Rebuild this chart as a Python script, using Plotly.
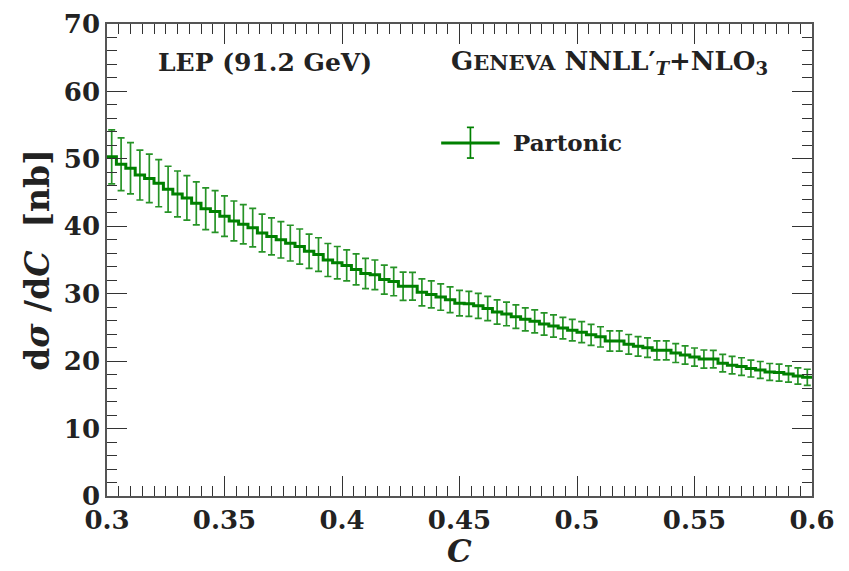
import numpy as np
import plotly.graph_objects as go

# Binning of the C distribution (75 bins of width 0.004 between 0.3 and 0.6)
c_lo = 0.3
c_hi = 0.6
n_bins = 75

# d sigma / dC per bin [nb]
xsec = [
    50.3, 49.2, 48.6, 47.6, 47.1, 46.4, 45.5, 44.8, 44.2, 43.4, 42.6, 42.2, 41.5,
    40.8, 40.3, 39.8, 39.0, 38.5, 38.0, 37.5, 37.0, 36.3, 35.8, 35.0, 34.6, 34.2,
    33.6, 33.0, 32.8, 32.1, 31.8, 31.1, 31.1, 30.2, 29.9, 29.5, 29.1, 28.6, 28.5,
    28.2, 27.8, 27.3, 27.0, 26.6, 26.2, 25.9, 25.5, 25.2, 24.9, 24.6, 24.3, 23.9,
    23.6, 23.0, 23.0, 22.5, 22.2, 22.0, 21.6, 21.6, 21.2, 20.9, 20.6, 20.3,
    20.3, 19.7, 19.4, 19.2, 18.9, 18.7, 18.4, 18.3, 18.1, 17.8, 17.6,
]

# symmetric uncertainty per bin [nb]
xsec_err = [
    4.0, 3.9, 3.8, 3.7, 3.6, 3.5, 3.4, 3.4, 3.3, 3.2, 3.1, 3.1, 3.0,
    2.95, 2.9, 2.85, 2.8, 2.75, 2.7, 2.65, 2.6, 2.55, 2.5, 2.45, 2.4, 2.3,
    2.3, 2.25, 2.2, 2.15, 2.1, 2.1, 2.05, 2.0, 2.0, 1.95, 1.9, 1.9, 1.85,
    1.85, 1.8, 1.8, 1.75, 1.75, 1.7, 1.7, 1.65, 1.65, 1.6, 1.6, 1.55, 1.55,
    1.5, 1.5, 1.5, 1.45, 1.45, 1.45, 1.4, 1.4, 1.4, 1.35, 1.35, 1.35,
    1.3, 1.3, 1.3, 1.3, 1.25, 1.25, 1.25, 1.25, 1.2, 1.2, 1.2,
]

x_tickvals = [0.3, 0.35, 0.4, 0.45, 0.5, 0.55, 0.6]
x_ticktext = ["0.3", "0.35", "0.4", "0.45", "0.5", "0.55", "0.6"]
y_tickvals = [0, 10, 20, 30, 40, 50, 60, 70]
y_ticktext = ["0", "10", "20", "30", "40", "50", "60", "70"]

edges = np.linspace(c_lo, c_hi, n_bins + 1)
centers = 0.5 * (edges[:-1] + edges[1:])

GREEN = "#008000"
FONT = "DejaVu Serif"
INK = "#222222"

fig = go.Figure()

# histogram outline
fig.add_trace(go.Scatter(
    x=edges, y=list(xsec) + [xsec[-1]],
    mode="lines", line=dict(color=GREEN, width=3, shape="hv"),
    hoverinfo="skip", showlegend=False,
))

# error bars at bin centres
fig.add_trace(go.Scatter(
    x=centers, y=xsec, mode="markers",
    marker=dict(size=1, color="rgba(0,0,0,0)"),
    error_y=dict(type="data", array=xsec_err, visible=True,
                 color="rgba(0,128,0,0.85)", thickness=1.7, width=3.5),
    showlegend=False,
))

axis_common = dict(
    showgrid=False, zeroline=False, automargin=False,
    showline=True, linecolor="#555555", linewidth=1.5,
    mirror="allticks", ticks="inside", ticklen=20, tickwidth=1.2, tickcolor="#333333",
    tickfont=dict(family=FONT, size=26, color=INK, weight="bold"),
)

fig.update_xaxes(
    range=[c_lo, c_hi], tickmode="array", tickvals=x_tickvals, ticktext=x_ticktext,
    minor=dict(dtick=0.005, ticklen=10, ticks="inside", tickcolor="#333333", tickwidth=1),
    **axis_common,
)
fig.update_yaxes(
    range=[0, 70], tickmode="array", tickvals=y_tickvals, ticktext=y_ticktext,
    minor=dict(dtick=2, ticklen=10, ticks="inside", tickcolor="#333333", tickwidth=1),
    title=dict(text="<b>d<i>σ</i> /d<i>C</i>  [nb]</b>",
               font=dict(family=FONT, size=33, color=INK), standoff=4),
    **axis_common,
)

# x-axis title placed below the tick labels
fig.add_annotation(
    x=0.5, y=-0.116, xref="paper", yref="paper", showarrow=False,
    xanchor="center", yanchor="middle", height=32, valign="middle",
    text="<b><i>C</i></b>", font=dict(family=FONT, size=31, color=INK),
)

# header labels
fig.add_annotation(
    x=0.224, y=0.919, xref="paper", yref="paper", showarrow=False,
    xanchor="center", yanchor="middle",
    text="<b>LEP (91.2 GeV)</b>", font=dict(family=FONT, size=25, color=INK),
)
fig.add_annotation(
    x=0.713, y=0.919, xref="paper", yref="paper", showarrow=False,
    xanchor="center", yanchor="middle",
    text="<b>G<span style='font-size:21px'>ENEVA</span> NNLL′<sub><i>T</i></sub>+NLO<sub>3</sub></b>",
    font=dict(family=FONT, size=26, color=INK),
)

# legend entry drawn by hand so that it shows the error-bar glyph
fig.add_shape(type="line", xref="paper", yref="paper",
              x0=0.474, x1=0.557, y0=0.748, y1=0.748,
              line=dict(color=GREEN, width=3))
fig.add_shape(type="line", xref="paper", yref="paper",
              x0=0.5155, x1=0.5155, y0=0.716, y1=0.781,
              line=dict(color=GREEN, width=1.7))
for yy in (0.716, 0.781):
    fig.add_shape(type="line", xref="paper", yref="paper",
                  x0=0.5105, x1=0.5205, y0=yy, y1=yy,
                  line=dict(color=GREEN, width=1.7))
fig.add_annotation(
    x=0.573, y=0.748, xref="paper", yref="paper", showarrow=False,
    xanchor="left", yanchor="middle",
    text="<b>Partonic</b>", font=dict(family=FONT, size=23, color=INK),
)

fig.update_layout(
    width=849, height=571,
    margin=dict(l=107, r=37, t=24, b=75),
    paper_bgcolor="white", plot_bgcolor="white",
    showlegend=False,
)

fig.write_html("out.html")
